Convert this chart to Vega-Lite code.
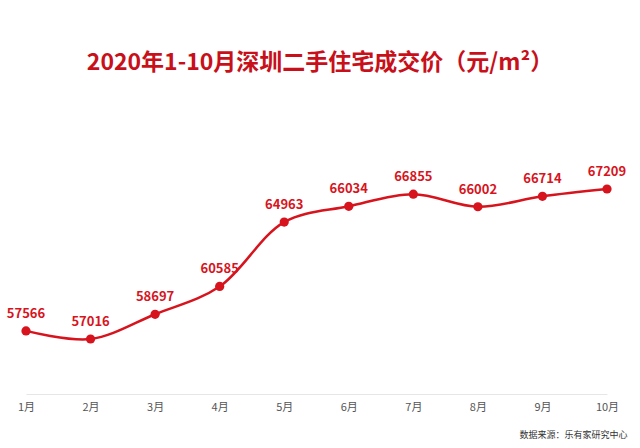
{
  "$schema": "https://vega.github.io/schema/vega-lite/v6.json",
  "width": 640,
  "height": 284,
  "autosize": "none",
  "padding": {"left": 0, "top": 110, "right": 0, "bottom": 54},
  "background": "white",
  "title": {
    "text": "2020年1-10月深圳二手住宅成交价（元/m²）",
    "font": "Noto Sans CJK SC",
    "fontSize": 23,
    "fontWeight": "bold",
    "color": "#c8101a",
    "anchor": "middle",
    "offset": 24,
    "baseline": "middle"
  },
  "config": {
    "view": {"stroke": null},
    "font": "Noto Sans CJK SC"
  },
  "data": {
    "values": [
      {"month": "1月", "price": 57566},
      {"month": "2月", "price": 57016},
      {"month": "3月", "price": 58697},
      {"month": "4月", "price": 60585},
      {"month": "5月", "price": 64963},
      {"month": "6月", "price": 66034},
      {"month": "7月", "price": 66855},
      {"month": "8月", "price": 66002},
      {"month": "9月", "price": 66714},
      {"month": "10月", "price": 67209}
    ]
  },
  "encoding": {
    "x": {
      "field": "month",
      "type": "ordinal",
      "sort": null,
      "scale": {"type": "point", "range": [26, 607], "padding": 0},
      "axis": {
        "title": "数据来源：乐有家研究中心",
        "titleFontSize": 9,
        "titleFontWeight": "normal",
        "titleColor": "#333333",
        "titleAnchor": "end",
        "titleAlign": "right",
        "titleX": 627,
        "titleY": 36,
        "labelAngle": 0,
        "labelFontSize": 11,
        "labelColor": "#555555",
        "labelPadding": 7,
        "ticks": false,
        "domainColor": "#e6e6e6",
        "domainWidth": 1,
        "grid": false
      }
    },
    "y": {
      "field": "price",
      "type": "quantitative",
      "scale": {"domain": [53279, 72577], "zero": false, "nice": false},
      "axis": null
    }
  },
  "layer": [
    {
      "mark": {"type": "line", "color": "#d7141d", "strokeWidth": 2.5, "interpolate": "catmull-rom"}
    },
    {
      "mark": {"type": "point", "filled": true, "color": "#d7141d", "size": 85, "opacity": 1}
    },
    {
      "mark": {"type": "text", "color": "#d7141d", "fontSize": 13, "fontWeight": "bold", "dy": -17, "baseline": "middle"},
      "encoding": {"text": {"field": "price", "type": "nominal"}}
    }
  ]
}
